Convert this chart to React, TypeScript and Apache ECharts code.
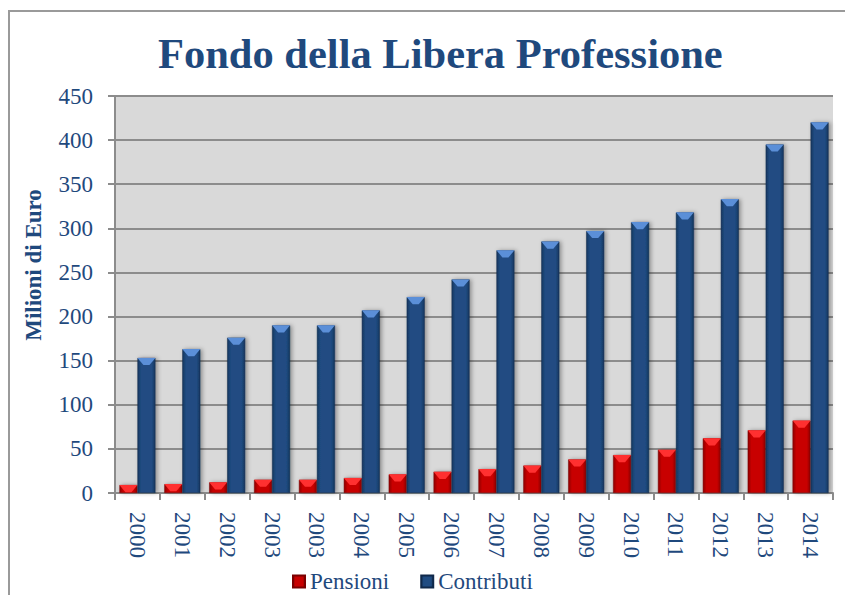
import React, { useEffect, useRef } from "react";
import * as echarts from "echarts";

const years = ["2000", "2001", "2002", "2003", "2003", "2004", "2005", "2006", "2007", "2008", "2009", "2010", "2011", "2012", "2013", "2014"];
const pensioni = [9, 10, 12, 15, 15, 17, 21, 24, 27, 31, 38, 43, 49, 62, 71, 82];
const contributi = [153, 163, 176, 190, 190, 207, 222, 242, 275, 285, 297, 307, 318, 333, 395, 420];
const yTicks = { min: 0, max: 450, interval: 50 };
const yName = "Milioni di Euro";

const TXT = "#1F497D";
const FONT = "'Liberation Serif', 'Times New Roman', serif";

export default function App() {
  const ref = useRef<HTMLDivElement>(null);
  useEffect(() => {
    if (!ref.current) return;
    const chart = echarts.init(ref.current, null, { renderer: "svg" });
    const redGrad = new echarts.graphic.LinearGradient(0, 0, 1, 0, [
      { offset: 0, color: "#8e0000" },
      { offset: 0.2, color: "#c80000" },
      { offset: 0.8, color: "#c80000" },
      { offset: 1, color: "#8e0000" },
    ]);
    const blueGrad = new echarts.graphic.LinearGradient(0, 0, 1, 0, [
      { offset: 0, color: "#15375f" },
      { offset: 0.2, color: "#204c82" },
      { offset: 0.8, color: "#204c82" },
      { offset: 1, color: "#15375f" },
    ]);
    const capPath = "path://M0,0 L18,0 L12,7 L6,7 Z";
    chart.setOption({
      animation: false,
      backgroundColor: "#ffffff",
      textStyle: { fontFamily: FONT },
      title: {
        text: "Fondo della Libera Professione",
        left: 153,
        top: 27,
        textStyle: { fontFamily: FONT, fontSize: 42.5, fontWeight: "bold", color: TXT },
      },
      graphic: [
        {
          type: "rect",
          shape: { x: 9, y: 11, width: 900, height: 700 },
          style: { fill: "none", stroke: "#9a9a9a", lineWidth: 2 },
          silent: true,
        },
        {
          type: "text",
          x: 33,
          y: 265,
          rotation: Math.PI / 2,
          style: {
            text: yName,
            fontFamily: FONT,
            fontSize: 23,
            fontWeight: "bold",
            fill: TXT,
            textAlign: "center",
            textVerticalAlign: "middle",
          },
          silent: true,
        },
      ],
      legend: {
        data: ["Pensioni", "Contributi"],
        bottom: -3,
        left: 287,
        icon: "rect",
        itemWidth: 12,
        itemHeight: 12,
        itemGap: 31,
        textStyle: { fontFamily: FONT, fontSize: 23, color: TXT },
      },
      grid: {
        left: 115,
        right: 12,
        top: 96,
        bottom: 102,
        show: true,
        backgroundColor: "#d9d9d9",
        borderWidth: 0,
      },
      xAxis: {
        type: "category",
        data: years,
        axisLine: { lineStyle: { color: "#8c8c8c", width: 2 } },
        axisTick: { show: true, length: 7, interval: 0, lineStyle: { color: "#8c8c8c", width: 2 } },
        axisLabel: {
          interval: 0,
          rotate: -90,
          margin: 19,
          fontFamily: FONT,
          fontSize: 23,
          color: TXT,
        },
      },
      yAxis: {
        type: "value",
        min: yTicks.min,
        max: yTicks.max,
        interval: yTicks.interval,
        axisLine: { show: true, lineStyle: { color: "#8c8c8c", width: 2 } },
        axisTick: { show: true, length: 7, lineStyle: { color: "#8c8c8c", width: 2 } },
        axisLabel: { margin: 22, fontFamily: FONT, fontSize: 23, color: TXT },
        splitLine: { show: true, lineStyle: { color: "#8c8c8c", width: 2 } },
      },
      series: [
        {
          name: "Pensioni",
          type: "bar",
          data: pensioni,
          barWidth: 18,
          barGap: "0%",
          itemStyle: {
            color: redGrad,
            borderColor: "#7a0000",
            borderWidth: 0.5,
            shadowColor: "rgba(0,0,0,0.35)",
            shadowBlur: 4,
            shadowOffsetX: 2,
          },
          z: 2,
        },
        {
          name: "Contributi",
          type: "bar",
          data: contributi,
          barWidth: 18,
          barGap: "0%",
          itemStyle: {
            color: blueGrad,
            borderColor: "#10294a",
            borderWidth: 0.5,
            shadowColor: "rgba(0,0,0,0.35)",
            shadowBlur: 4,
            shadowOffsetX: 2,
          },
          z: 2,
        },
        {
          name: "capP",
          type: "pictorialBar",
          data: pensioni,
          barWidth: 18,
          barGap: "0%",
          symbol: capPath,
          symbolSize: [18, 7],
          symbolPosition: "end",
          itemStyle: { color: "#ff3030" },
          z: 3,
          silent: true,
        },
        {
          name: "capC",
          type: "pictorialBar",
          data: contributi,
          barWidth: 18,
          barGap: "0%",
          symbol: capPath,
          symbolSize: [18, 7],
          symbolPosition: "end",
          itemStyle: { color: "#5b8fd8" },
          z: 3,
          silent: true,
        },
      ],
    });
    return () => chart.dispose();
  }, []);
  return (
    <div
      ref={ref}
      style={{ position: "absolute", left: 0, top: 0, width: 845, height: 595 }}
    />
  );
}
